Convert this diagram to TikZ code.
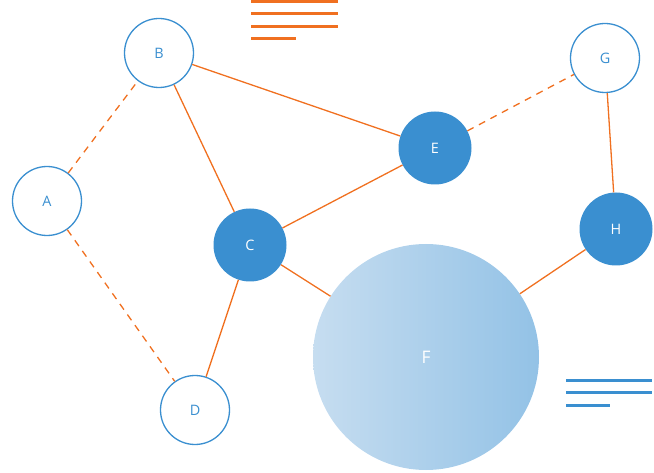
\documentclass[tikz,border=0pt]{standalone}
\usepackage{fontspec}
\setmainfont{Open Sans}
\definecolor{nb}{HTML}{3A8FD0}
\definecolor{no}{HTML}{F07020}
\definecolor{fl}{HTML}{C6DDF0}
\definecolor{fr}{HTML}{93C2E6}
\begin{document}
\begin{tikzpicture}[x=1pt,y=1pt,
  open/.style={circle,draw=nb,line width=1.3pt,fill=white,text=nb,minimum size=69pt,inner sep=0pt,font=\Large},
  full/.style={circle,fill=nb,text=white,minimum size=73pt,inner sep=0pt,font=\Large},
  e/.style={draw=no,line width=1.3pt},
  d/.style={e,dash pattern=on 7pt off 6pt}]
\useasboundingbox (0,0) rectangle (654,472);
\node[open] (A) at (47,271) {A};
\node[open] (B) at (159,419) {B};
\node[open] (D) at (195,62) {D};
\node[open] (G) at (605,414) {G};
\node[full] (C) at (250,227) {C};
\node[full] (E) at (435,324) {E};
\node[full] (H) at (616,243) {H};
\node[circle,minimum size=226pt,inner sep=0pt,left color=fl,right color=fr,text=white,font=\LARGE] (F) at (426,115) {F};
\draw[d] (A)--(B); \draw[d] (A)--(D); \draw[d] (E)--(G);
\draw[e] (B)--(E); \draw[e] (B)--(C); \draw[e] (C)--(E); \draw[e] (C)--(D);
\draw[e] (C)--(F); \draw[e] (F)--(H); \draw[e] (G)--(H);
\begin{scope}[line width=3pt,no]
\coordinate (o1) at (251,470); \coordinate (o1e) at (338,470);
\draw (o1)--(o1e);
\draw (251,458)--(338,458); \draw (251,445)--(338,445); \draw (251,433)--(296,433);
\end{scope}
\begin{scope}[line width=3pt,nb]
\draw (566,92)--(652,92); \draw (566,80)--(652,80); \draw (566,67)--(610,67);
\end{scope}
\end{tikzpicture}
\end{document}
